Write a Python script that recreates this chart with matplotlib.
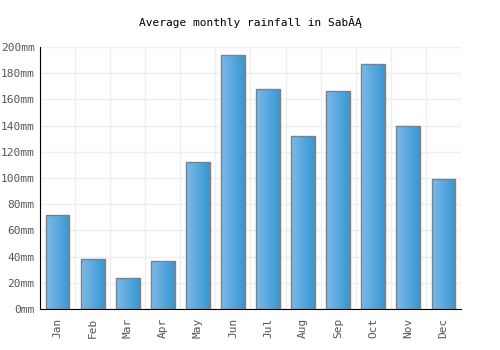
import matplotlib
matplotlib.use("Agg")
import matplotlib.pyplot as plt
import numpy as np
from matplotlib.colors import LinearSegmentedColormap

months = ["Jan", "Feb", "Mar", "Apr", "May", "Jun", "Jul", "Aug", "Sep", "Oct", "Nov", "Dec"]
rainfall = [72, 38, 24, 37, 112, 194, 168, 132, 166, 187, 140, 99]
yticks = [0, 20, 40, 60, 80, 100, 120, 140, 160, 180, 200]

plt.rcParams['font.family'] = ['DejaVu Sans Mono']

fig = plt.figure(figsize=(5, 3.5), dpi=100)
ax = fig.add_axes([0.08, 0.117, 0.842, 0.749])

x = np.arange(len(months))
bars = ax.bar(x, rainfall, width=0.68, color='none', edgecolor='#808080', linewidth=1, zorder=3)

# left-to-right gradient inside each bar
cmap = LinearSegmentedColormap.from_list("bar", ["#7db9e9", "#3797d2"])
grad = np.linspace(0, 1, 64).reshape(1, -1)
for b in bars:
    bx, by = b.get_x(), b.get_y()
    w, h = b.get_width(), b.get_height()
    im = ax.imshow(grad, cmap=cmap, aspect='auto', extent=[bx, bx + w, by, by + h], zorder=2)
    im.set_clip_path(b)

ax.set_xlim(-0.5, len(months) - 0.5)
ax.set_ylim(0, 200)
ax.set_xticks(x)
ax.set_xticklabels(months, rotation=90, fontsize=8, color='#555555')
ax.set_yticks(yticks)
ax.set_yticklabels([f"{v}mm" for v in yticks], fontsize=8, color='#555555')
ax.set_xticks(np.arange(len(months) + 1) - 0.5, minor=True)
ax.tick_params(axis='x', which='major', length=0, pad=6)
ax.tick_params(axis='x', which='minor', length=0)
ax.tick_params(axis='y', length=0, pad=4)

ax.grid(axis='y', which='major', color='#eeeeee', linewidth=1, zorder=0)
ax.grid(axis='x', which='minor', color='#eeeeee', linewidth=1, zorder=0)
ax.set_axisbelow(True)

for s in ['top', 'right']:
    ax.spines[s].set_visible(False)
ax.spines['left'].set_color('black')
ax.spines['bottom'].set_color('black')

fig.text(0.5, 0.936, "Average monthly rainfall in SabĂĄ", ha='center', va='center', fontsize=8)

fig.savefig("out.png", dpi=100)
